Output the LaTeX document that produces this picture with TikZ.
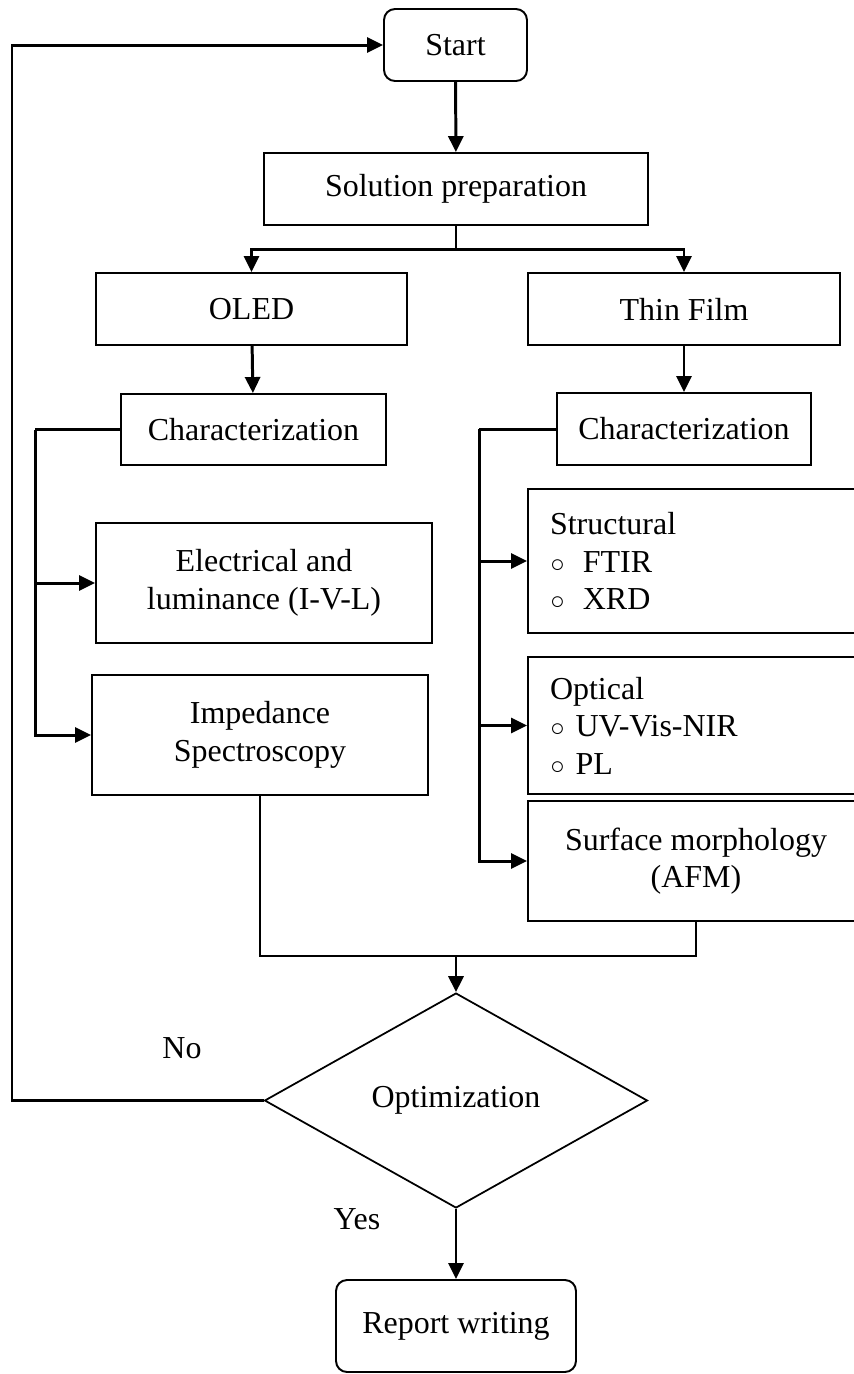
\documentclass[tikz,border=0pt]{standalone}
\usepackage{fontspec}
\setmainfont{Liberation Serif}
\usetikzlibrary{shapes.geometric, arrows.meta, positioning, calc}
\tikzstyle{startstop} = [rectangle, rounded corners=0.22cm, minimum width=2.86cm, minimum height=1.44cm, text centered, draw=black, line width=1.1pt]
\tikzstyle{process} = [rectangle, minimum height=1.44cm, text centered, draw=black, line width=1.1pt]
\tikzstyle{method} = [rectangle, minimum width=6.72cm, minimum height=2.4cm, align=center, draw=black, line width=1.1pt]
\tikzstyle{listbox} = [rectangle, text width=5.84cm, inner xsep=0.44cm, align=left, draw=black, line width=1.1pt]
\tikzstyle{decision} = [diamond, minimum width=7.66cm, minimum height=4.3cm, inner sep=0pt, text centered, draw=black, line width=1pt]
\tikzstyle{arrow} = [line width=1.7pt,-{Triangle[length=0.32cm,width=0.3cm]}]
\tikzstyle{line} = [line width=1.7pt]
\tikzstyle{thinline} = [line width=1.1pt]
\newcommand{\bul}{{\fontsize{14}{14}\selectfont ○}}

\begin{document}
\begin{tikzpicture}[x=0.02cm, y=-0.02cm, font=\fontsize{18.2}{21.3}\selectfont]
    \useasboundingbox (0,0) rectangle (854,1374);
    \node[startstop] (start) at (455.5,45) {Start};
    \node[process, minimum width=7.68cm] (prep) at (456,189) {Solution preparation};
    \node[process, minimum width=6.22cm] (oled) at (251.5,309) {OLED};
    \node[process, minimum width=6.24cm] (film) at (684,309) {Thin Film};
    \node[process, minimum width=5.3cm, minimum height=1.42cm] (charl) at (253.5,429.5) {Characterization};
    \node[process, minimum width=5.08cm] (charr) at (684,429) {Characterization};
    \node[method] (elec) at (264,583) {Electrical and\\luminance (I-V-L)};
    \node[method] (imp) at (260,735) {Impedance\\Spectroscopy};
    \node[listbox, minimum height=2.88cm] (struct) at (696,561) {Structural\\\bul\hspace{0.36cm}FTIR\\\bul\hspace{0.36cm}XRD};
    \node[listbox, minimum height=2.74cm] (optic) at (696,725.5) {Optical\\\bul\ UV-Vis-NIR\\\bul\ PL};
    \node[method] (surf) at (696,861) {Surface morphology\\(AFM)};
    \node[decision] (opt) at (456,1100.5) {Optimization};
    \node[startstop, minimum width=4.8cm, minimum height=1.84cm] (report) at (456,1326) {Report writing};
    \node (no) at (182,1048) {No};
    \node (yes) at (357,1219) {Yes};

    \coordinate (split) at ($(prep.south)+(0,24)$);
    \coordinate (lbus) at ($(charl.west)+(-85,0)$);
    \coordinate (rbus) at ($(charr.west)+(-77,0)$);
    \coordinate (merge) at (456,956);
    \coordinate (loop) at (12,600);

    \draw[arrow] (start) -- (prep);
    \draw[line] (prep.south) -- (split);
    \draw[arrow] (split) -| (oled.north);
    \draw[arrow] (split) -| (film.north);
    \draw[arrow] (oled) -- (charl);
    \draw[arrow] (film) -- (charr);
    \draw[line] (charl.west) -- (lbus);
    \draw[arrow] (lbus) |- (imp.west);
    \draw[arrow] (lbus |- elec.west) -- (elec.west);
    \draw[line] (charr.west) -- (rbus);
    \draw[arrow] (rbus) |- (surf.west);
    \draw[arrow] (rbus |- struct.west) -- (struct.west);
    \draw[arrow] (rbus |- optic.west) -- (optic.west);
    \draw[thinline] (imp.south) |- (merge);
    \draw[thinline] (surf.south) |- (merge);
    \draw[arrow] (merge) -- (opt.north);
    \draw[arrow] (opt.south) -- (report.north);
    \draw[arrow] (opt.west) -| (loop) |- (start.west);
\end{tikzpicture}
\end{document}
